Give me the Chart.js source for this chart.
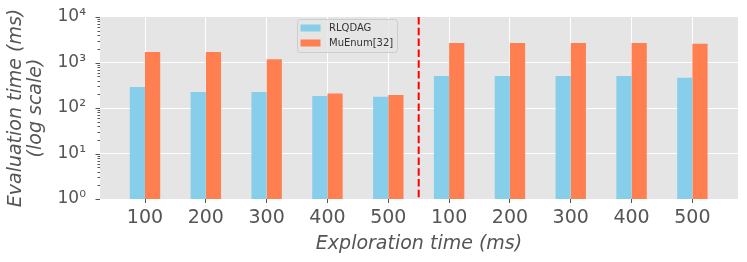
<!DOCTYPE html>
<html><head><meta charset="utf-8">
<script src="https://cdn.jsdelivr.net/npm/chart.js@4/dist/chart.umd.min.js"></script>
<style>html,body{margin:0;padding:0;background:#fff}#wrap{width:747px;height:262px;position:relative}</style>
</head><body><div id="wrap"><canvas id="c" width="747" height="262"></canvas></div>
<script>
// ---- data ----
const categories = ['100','200','300','400','500','100','200','300','400','500'];
const seriesNames = ['RLQDAG','MuEnum[32]'];
const rlqdag = [290, 225, 225, 184, 177, 505, 505, 505, 505, 464];
const muenum = [1700, 1700, 1175, 207, 193, 2680, 2680, 2680, 2680, 2590];
const yDecades = [1, 10, 100, 1000, 10000];
const splitAt = 4.5;
const xTitle = 'Exploration time (ms)';
const yTitle = ['Evaluation time (ms)', '(log scale)'];

// ---- styles ----
const FONT = "'DejaVu Sans', sans-serif";
const GREY = '#555555';
const colors = ['#87CEEB', '#FF7F50'];
const sup = {'0':'⁰','1':'¹','2':'²','3':'³','4':'⁴','5':'⁵','6':'⁶','7':'⁷','8':'⁸','9':'⁹'};
const isDecade = v => { const e = Math.round(Math.log10(v)); return Math.abs(v - Math.pow(10, e)) < 1e-9 * Math.max(1, v); };

const bgPlugin = {
  id: 'bg',
  beforeDraw(chart) {
    const {ctx, chartArea: a} = chart;
    ctx.save(); ctx.fillStyle = '#E5E5E5';
    ctx.fillRect(a.left, a.top, a.right - a.left, a.bottom - a.top);
    ctx.restore();
  },
  afterDatasetsDraw(chart) {
    const {ctx, chartArea: a, scales} = chart;
    const x = scales.x.getPixelForValue(splitAt);
    ctx.save();
    ctx.strokeStyle = '#FF0000'; ctx.lineWidth = 2; ctx.setLineDash([7.5, 3.3]);
    ctx.beginPath(); ctx.moveTo(x, a.top); ctx.lineTo(x, a.bottom); ctx.stroke();
    ctx.restore();
  },
  afterDraw(chart) {
    const {ctx, chartArea: a, scales} = chart;
    // y tick marks (major + minor)
    ctx.save();
    ctx.strokeStyle = GREY; ctx.lineWidth = 1;
    scales.y.ticks.forEach(t => {
      const y = Math.round(scales.y.getPixelForValue(t.value)) + 0.5;
      const len = isDecade(t.value) ? 4.5 : 2.5;
      ctx.beginPath(); ctx.moveTo(a.left - len, y); ctx.lineTo(a.left, y); ctx.stroke();
    });
    ctx.restore();
    // legend
    const lx = a.left + 197, ly = a.top + 2, lw = 100, lh = 33;
    ctx.save();
    ctx.fillStyle = 'rgba(229,229,229,0.8)';
    ctx.strokeStyle = '#CCCCCC'; ctx.lineWidth = 1;
    ctx.beginPath(); ctx.roundRect(lx + 0.5, ly + 0.5, lw, lh, 3); ctx.fill(); ctx.stroke();
    ctx.font = '10px ' + FONT; ctx.textBaseline = 'middle';
    seriesNames.forEach((n, i) => {
      const cy = ly + 9 + i * 15;
      ctx.fillStyle = colors[i];
      ctx.fillRect(lx + 3.5, cy - 3.5, 20, 7);
      ctx.fillStyle = '#333333';
      ctx.fillText(n, lx + 32, cy);
    });
    ctx.restore();
  }
};

const mk = arr => arr.map((v, i) => ({x: i, y: v}));

new Chart(document.getElementById('c'), {
  type: 'bar',
  data: {
    datasets: [
      {label: seriesNames[0], data: mk(rlqdag), backgroundColor: colors[0], categoryPercentage: 0.5, barPercentage: 1.0},
      {label: seriesNames[1], data: mk(muenum), backgroundColor: colors[1], categoryPercentage: 0.5, barPercentage: 1.0}
    ]
  },
  options: {
    responsive: false,
    devicePixelRatio: 1,
    animation: false,
    layout: {padding: {top: 17, right: 9, left: 0, bottom: 0}},
    plugins: {legend: {display: false}, tooltip: {enabled: false}},
    scales: {
      x: {
        type: 'linear',
        min: -0.74, max: 9.75,
        offset: false,
        border: {display: false},
        grid: {offset: false, color: 'rgba(255,255,255,1)', lineWidth: 1, drawTicks: true, tickLength: 4, tickColor: GREY, tickWidth: 1},
        afterBuildTicks: s => { s.ticks = categories.map((_, i) => ({value: i})); },
        ticks: {
          autoSkip: false, maxRotation: 0, padding: 4,
          color: GREY, font: {family: FONT, size: 19},
          callback: v => categories[v] ?? ''
        },
        title: {display: true, text: xTitle, color: GREY, font: {family: FONT, size: 19, style: 'italic'}, padding: {top: 0, bottom: 7}},
        afterFit: s => { s.height = 63; s.paddingLeft = 0; s.paddingRight = 0; }
      },
      y: {
        type: 'logarithmic',
        min: yDecades[0], max: yDecades[yDecades.length - 1],
        border: {display: false},
        grid: {
          drawTicks: false,
          color: c => (c.tick && isDecade(c.tick.value) && c.tick.value > yDecades[0] && c.tick.value < yDecades[yDecades.length - 1]) ? '#FFFFFF' : 'rgba(0,0,0,0)',
          lineWidth: 1
        },
        afterBuildTicks: s => {
          const t = [];
          for (let d = 0; d < yDecades.length - 1; d++) for (let k = 1; k <= 9; k++) t.push({value: k * yDecades[d], major: k === 1});
          t.push({value: yDecades[yDecades.length - 1], major: true});
          s.ticks = t;
        },
        ticks: {
          autoSkip: false, padding: 14, color: GREY, font: {family: FONT, size: 17},
          callback: v => isDecade(v) ? '10' + String(Math.round(Math.log10(v))).split('').map(ch => sup[ch]).join('') : ''
        },
        title: {display: true, text: yTitle, color: GREY, font: {family: FONT, size: 19, style: 'italic', lineHeight: 1.05}, padding: {top: 6, bottom: 0}},
        afterFit: s => { s.width = 100; s.paddingTop = 0; s.paddingBottom = 0; }
      }
    }
  },
  plugins: [bgPlugin]
});
</script>
</body></html>
